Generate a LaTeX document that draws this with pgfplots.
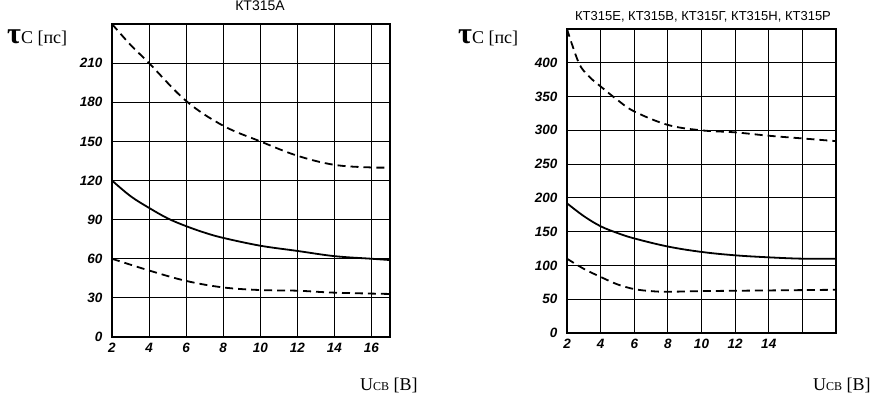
\documentclass[border=0pt]{standalone}
\usepackage{fontspec}
\setmainfont{Liberation Serif}
\newfontfamily\sansf{Liberation Sans}
\usepackage{pgfplots}
\pgfplotsset{compat=1.18}
\begin{document}
\begin{tikzpicture}
\path[use as bounding box] (0pt,0pt) rectangle (873pt,399pt);
\pgfplotsset{
  every axis/.append style={
    scale only axis, anchor=south west,
    axis line style={line width=1.4pt},
    grid=major, major grid style={black, line width=0.9pt},
    major tick length=0pt,
    tick label style={font=\sansf\bfseries\itshape\fontsize{13.5}{15}\selectfont},
    /pgf/number format/assume math mode=true,
    xticklabel style={yshift=-3pt},
    yticklabel style={xshift=-6pt},
  },
  curve/.style={black, line width=1.8pt, smooth, tension=0.6},
  dcurve/.style={curve, dash pattern=on 8pt off 5pt},
}
% left chart
\begin{axis}[at={(112pt,62pt)}, width=278pt, height=313pt,
  xmin=2, xmax=17, ymin=0, ymax=240,
  xtick={2,4,...,16}, ytick={0,30,...,210}]
\addplot[dcurve] coordinates {(2,240) (3,224) (4,210) (6,181) (8,162) (10,150) (12,139) (14,132) (16,130) (17,130)};
\addplot[curve] coordinates {(2,120) (3,108) (4,99) (5,91) (6,85) (7,80) (8,76) (10,70) (12,66) (14,62) (16,60) (17,59)};
\addplot[dcurve] coordinates {(2,60) (4,51) (6,43) (8,38) (10,36) (12,35.5) (14,34) (17,33)};
\end{axis}
% right chart
\begin{axis}[at={(567pt,66pt)}, width=269pt, height=304pt,
  xmin=2, xmax=18, ymin=0, ymax=450,
  xtick={2,4,...,16}, xticklabels={2,4,6,8,10,12,14,{}},
  ytick={0,50,...,400}]
\addplot[dcurve] coordinates {(2,450) (2.7,400) (3.3,380) (4,365) (5,345) (6,328) (8,308) (10,300) (12,297) (14,292) (16,288) (18,284)};
\addplot[curve] coordinates {(2,192) (3,173) (4,158) (5,148) (6,140) (8,128) (10,120) (12,115) (14,112) (16,110) (18,110)};
\addplot[dcurve] coordinates {(2,110) (3,95) (4,83) (5,72) (6,65) (7,62) (8,61) (10,62) (14,63) (18,64)};
\end{axis}
% labels
\node[anchor=west, inner sep=0pt] at (7pt,361pt) {\fontsize{30}{30}\selectfont\textbf{τ}\fontsize{18}{20}\selectfont C [пс]};
\node[anchor=west, inner sep=0pt] at (458pt,361pt) {\fontsize{30}{30}\selectfont\textbf{τ}\fontsize{18}{20}\selectfont C [пс]};
\node[anchor=west, inner sep=0pt] at (360pt,14pt) {\fontsize{18}{20}\selectfont U\fontsize{12}{14}\selectfont CB\fontsize{18}{20}\selectfont\ [В]};
\node[anchor=west, inner sep=0pt] at (813pt,14pt) {\fontsize{18}{20}\selectfont U\fontsize{12}{14}\selectfont CB\fontsize{18}{20}\selectfont\ [В]};
\node at (260pt,393pt) {\sansf\fontsize{14}{16}\selectfont КТ315А};
\node at (703pt,382pt) {\sansf\fontsize{13}{15}\selectfont КТ315Е, КТ315В, КТ315Г, КТ315Н, КТ315Р};
\end{tikzpicture}
\end{document}
